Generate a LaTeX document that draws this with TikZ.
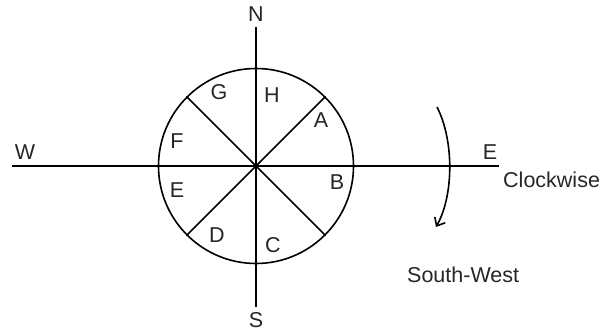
\documentclass[tikz,border=0pt]{standalone}
\usepackage{fontspec}
\setmainfont{Liberation Sans}
\usetikzlibrary{arrows.meta}
\begin{document}
\begin{tikzpicture}[x=1pt,y=-1pt,
  ln/.style={line width=1.6pt,black},
  lbl/.style={inner sep=0pt,font=\fontsize{21.5}{25}\selectfont,text=black!85}]
\useasboundingbox (0,0) rectangle (616,332);
\coordinate (O) at (256,166);
\node[ln,draw,circle,minimum size=195pt,inner sep=0pt] (circ) at (O) {};
\coordinate (nT) at (256,27);
\coordinate (sB) at (256,307);
\coordinate (wL) at (12,166);
\coordinate (eR) at (499,166);
\draw[ln] (nT) -- (sB);
\draw[ln] (wL) -- (eR);
\draw[ln] (circ.north east) -- (circ.south west);
\draw[ln] (circ.north west) -- (circ.south east);
\node[lbl] (N) at (256,14) {N};
\node[lbl] (S) at (256,320) {S};
\node[lbl] (W) at (25,152) {W};
\node[lbl] (E) at (490,152) {E};
\node[lbl] (G) at (219,92) {G};
\node[lbl] (H) at (272,95) {H};
\node[lbl] (A) at (321,120) {A};
\node[lbl] (F) at (177,141) {F};
\node[lbl] (B) at (337,182) {B};
\node[lbl] (Ee) at (177,190) {E};
\node[lbl] (D) at (217,235) {D};
\node[lbl] (C) at (273,245) {C};
\node[lbl,anchor=west] (cw) at (503,180) {Clockwise};
\node[lbl,anchor=west] (sw) at (407,275) {South-West};
\coordinate (a1) at (437,107);
\coordinate (a2) at (436,227);
\draw[ln,-{Straight Barb[length=7pt,width=12pt]}] (a1) .. controls (454,140) and (454,195) .. (a2);
\end{tikzpicture}
\end{document}
